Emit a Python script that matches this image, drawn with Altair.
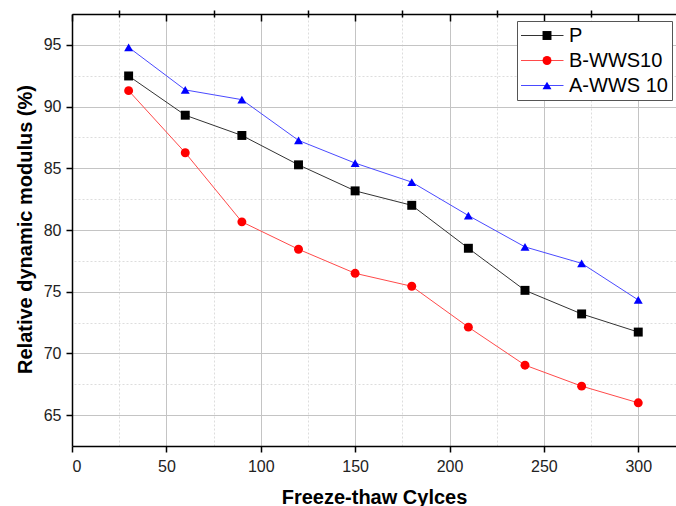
import altair as alt
import pandas as pd

cycles = [30, 60, 90, 120, 150, 180, 210, 240, 270, 300]
p_vals = [92.48, 89.30, 87.66, 85.28, 83.17, 82.00, 78.52, 75.11, 73.20, 71.73]
b_vals = [91.29, 86.26, 80.66, 78.44, 76.49, 75.44, 72.13, 69.05, 67.35, 66.00]
a_vals = [94.80, 91.35, 90.56, 87.26, 85.42, 83.88, 81.17, 78.63, 77.30, 74.33]

series = ["P", "B-WWS10", "A-WWS 10"]
line_colors = ["#333333", "#ff4a4a", "#4a4aff"]
marker_colors = ["#000000", "#ff0000", "#0000ff"]
shapes = ["square", "circle", "triangle-up"]

x_major = [0, 50, 100, 150, 200, 250, 300]
x_minor = [25, 75, 125, 175, 225, 275]
y_major = [65, 70, 75, 80, 85, 90, 95]
y_minor = [67.5, 72.5, 77.5, 82.5, 87.5, 92.5]

rows = []
for name, vals in zip(series, [p_vals, b_vals, a_vals]):
    for c, v in zip(cycles, vals):
        rows.append({"cycles": c, "value": v, "series": name})
df = pd.DataFrame(rows)

W, H = 604, 432
FONT = "Liberation Sans"
xs = alt.Scale(domain=[0, 320], nice=False, zero=False)
ys = alt.Scale(domain=[62.5, 97.5], nice=False, zero=False)

common_leg = dict(
    title=None, orient="none", legendX=445, legendY=7, padding=4,
    rowPadding=4, clipHeight=21, labelFont=FONT, labelFontSize=20,
    labelColor="#000000", labelOffset=5,
)

lines = alt.Chart(df).mark_line(strokeWidth=1).encode(
    x=alt.X("cycles:Q", scale=xs, axis=alt.Axis(
        values=x_major, title="Freeze-thaw Cylces", grid=True,
        gridColor="#c4c4c4", gridWidth=1, tickSize=6, tickColor="#000000",
        tickWidth=1.5, domainColor="#000000", domainWidth=1.5,
        labelFont=FONT, labelFontSize=16, labelColor="#222222",
        labelPadding=6, titleFont=FONT, titleFontSize=20,
        titleFontWeight="bold", titleColor="#000000", titleY=51,
        titleBaseline="middle", format="d")),
    y=alt.Y("value:Q", scale=ys, axis=alt.Axis(
        values=y_major, title="Relative dynamic modulus (%)", grid=True,
        gridColor="#c4c4c4", gridWidth=1, tickSize=6, tickColor="#000000",
        tickWidth=1.5, domainColor="#000000", domainWidth=1.5,
        labelFont=FONT, labelFontSize=16, labelColor="#222222",
        labelPadding=5, titleFont=FONT, titleFontSize=20,
        titleFontWeight="bold", titleColor="#000000", titleX=-47,
        titleY=215, titleBaseline="middle", format="d")),
    stroke=alt.Stroke("series:N", scale=alt.Scale(domain=series, range=line_colors),
                      legend=alt.Legend(symbolType="stroke", symbolSize=1936,
                                        symbolStrokeWidth=1, symbolOffset=-2,
                                        strokeColor="#555555",
                                        fillColor="#ffffff", zindex=0, **common_leg)),
)

pt_leg = alt.Legend(symbolSize=80, symbolOffset=16, labelExpr="''",
                    symbolStrokeWidth=0, zindex=1, **common_leg)

points = alt.Chart(df).mark_point(filled=True, size=80, opacity=1, strokeWidth=0).encode(
    x=alt.X("cycles:Q", scale=xs, axis=alt.Axis(
        values=x_minor, title=None, labels=False, domain=False, grid=True,
        gridColor="#dddddd", gridDash=[2, 2], gridWidth=1, tickSize=4,
        tickColor="#000000", tickWidth=1.5)),
    y=alt.Y("value:Q", scale=ys, axis=alt.Axis(
        values=y_minor, title=None, labels=False, domain=False, grid=True,
        gridColor="#dddddd", gridDash=[2, 2], gridWidth=1, tickSize=4,
        tickColor="#000000", tickWidth=1.5)),
    fill=alt.Fill("series:N", scale=alt.Scale(domain=series, range=marker_colors), legend=pt_leg),
    shape=alt.Shape("series:N", scale=alt.Scale(domain=series, range=shapes), legend=pt_leg),
)

top_major = alt.Chart(df).mark_point(opacity=0).encode(
    x=alt.X("cycles:Q", scale=xs, axis=alt.Axis(
        values=x_major, orient="bottom", offset=-H, title=None, labels=False,
        grid=False, tickSize=7, tickColor="#000000", tickWidth=1.5,
        domainColor="#000000", domainWidth=1.5)),
    y=alt.Y("value:Q", scale=ys, axis=None),
)

top_minor = alt.Chart(df).mark_point(opacity=0).encode(
    x=alt.X("cycles:Q", scale=xs, axis=alt.Axis(
        values=x_minor, orient="bottom", offset=-H, title=None, labels=False,
        domain=False, grid=False, tickSize=3, tickColor="#000000", tickWidth=1.5)),
    y=alt.Y("value:Q", scale=ys, axis=None),
)

chart = alt.layer(lines, points, top_major, top_minor).resolve_axis(
    x="independent", y="independent"
).resolve_legend(
    stroke="independent", fill="independent", shape="independent"
).properties(
    width=W, height=H,
    autosize=alt.AutoSizeParams(type="none"),
    padding={"left": 72, "top": 14, "right": 0, "bottom": 60},
    background="#ffffff",
).configure_view(stroke=None)

chart.save("out.html", embed_options={"renderer": "svg", "actions": False})
